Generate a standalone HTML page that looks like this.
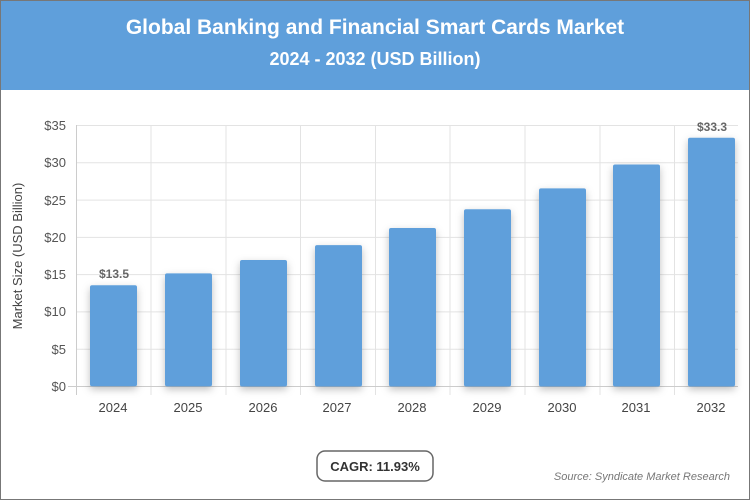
<!DOCTYPE html>
<html><head><style>
body{margin:0;width:750px;height:500px;overflow:hidden;font-family:"Liberation Sans",sans-serif;}
.wrap{position:relative;width:748px;height:498px;border:1px solid #777;background:#fff;}
.hdr{position:absolute;left:0;top:0;width:748px;height:89px;background:#5f9fdb;color:#fff;text-align:center;font-weight:bold;}
</style></head><body><div class="wrap">
<div class="hdr"><div style="font-size:21px;margin-top:15px">Global Banking and Financial Smart Cards Market</div><div style="font-size:18px;margin-top:9px">2024 - 2032 (USD Billion)</div></div>
<svg width="750" height="500" style="position:absolute;left:-1px;top:-1px" font-family="Liberation Sans, sans-serif">
<defs><filter id="sh" x="-30%" y="-10%" width="160%" height="130%"><feDropShadow dx="0" dy="3" stdDeviation="4" flood-color="#000" flood-opacity="0.25"/></filter></defs>
<g stroke="#e3e3e3" stroke-width="1">
<line x1="76" y1="125.5" x2="738" y2="125.5"/><line x1="76" y1="162.8" x2="738" y2="162.8"/><line x1="76" y1="200.1" x2="738" y2="200.1"/><line x1="76" y1="237.4" x2="738" y2="237.4"/><line x1="76" y1="274.6" x2="738" y2="274.6"/><line x1="76" y1="311.9" x2="738" y2="311.9"/><line x1="76" y1="349.2" x2="738" y2="349.2"/>
<line x1="151" y1="125" x2="151" y2="395"/><line x1="226" y1="125" x2="226" y2="395"/><line x1="300.5" y1="125" x2="300.5" y2="395"/><line x1="375.5" y1="125" x2="375.5" y2="395"/><line x1="450" y1="125" x2="450" y2="395"/><line x1="525" y1="125" x2="525" y2="395"/><line x1="600" y1="125" x2="600" y2="395"/><line x1="674.5" y1="125" x2="674.5" y2="395"/>
</g>
<line x1="76.5" y1="125" x2="76.5" y2="395" stroke="#ccc"/>
<line x1="68" y1="386.5" x2="738" y2="386.5" stroke="#ccc"/>
<g font-size="13" fill="#555" text-anchor="end">
<text x="66" y="130">$35</text><text x="66" y="167">$30</text><text x="66" y="205">$25</text><text x="66" y="242">$20</text><text x="66" y="279">$15</text><text x="66" y="316">$10</text><text x="66" y="354">$5</text><text x="66" y="391">$0</text></g>
<text transform="translate(22,256) rotate(-90)" font-size="13" fill="#444" text-anchor="middle">Market Size (USD Billion)</text>
<g fill="#5f9fdb" filter="url(#sh)">
<rect x="90" y="285.3" width="47" height="101" rx="2"/>
<rect x="165" y="273.4" width="47" height="113" rx="2"/>
<rect x="240" y="260" width="47" height="126.5" rx="2"/>
<rect x="315" y="245.1" width="47" height="141.4" rx="2"/>
<rect x="389" y="228" width="47" height="158.5" rx="2"/>
<rect x="464" y="209.3" width="47" height="177.2" rx="2"/>
<rect x="539" y="188.4" width="47" height="198.1" rx="2"/>
<rect x="613" y="164.5" width="47" height="222" rx="2"/>
<rect x="688" y="137.7" width="47" height="248.8" rx="2"/>
</g>
<g font-size="12" fill="#666" font-weight="bold" text-anchor="middle"><text x="114" y="278">$13.5</text><text x="712" y="131">$33.3</text></g>
<g font-size="13" fill="#444" text-anchor="middle">
<text x="113" y="412">2024</text><text x="188" y="412">2025</text><text x="263" y="412">2026</text><text x="337" y="412">2027</text><text x="412" y="412">2028</text><text x="487" y="412">2029</text><text x="562" y="412">2030</text><text x="636" y="412">2031</text><text x="711" y="412">2032</text></g>
<rect x="317" y="451" width="116" height="30" rx="8" fill="#fff" stroke="#666" stroke-width="1.5"/>
<text x="375" y="471" font-size="13" font-weight="bold" fill="#333" text-anchor="middle">CAGR: 11.93%</text>
<text x="730" y="480" font-size="11" font-style="italic" fill="#777" text-anchor="end">Source: Syndicate Market Research</text>
</svg></div></body></html>
